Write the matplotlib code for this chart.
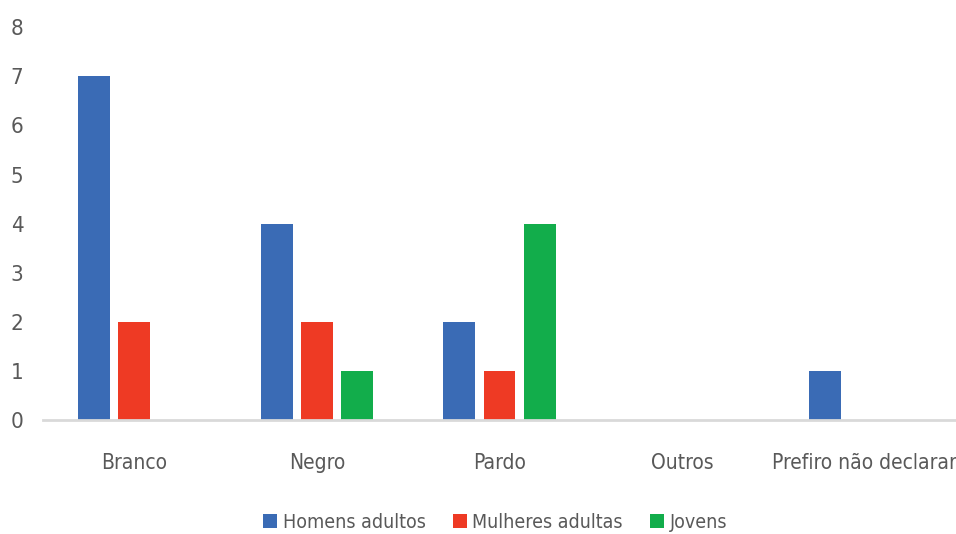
import numpy as np
import matplotlib.pyplot as plt

plt.rcParams['font.family'] = ['DejaVu Sans']
plt.rcParams['font.stretch'] = 'condensed'

categorias = ['Branco', 'Negro', 'Pardo', 'Outros', 'Prefiro não declarar']
homens = [7, 4, 2, 0, 1]
mulheres = [2, 2, 1, 0, 0]
jovens = [0, 1, 4, 0, 0]

cor_txt = '#595959'
x = np.arange(len(categorias))
w = 0.175
passo = 0.22

fig = plt.figure(figsize=(9.56, 5.34), dpi=100)
ax = fig.add_axes([0.045, 0.2135, 0.955, 0.7355])

ax.bar(x - passo, homens, w, color='#3a6bb5', label='Homens adultos')
ax.bar(x, mulheres, w, color='#ee3a24', label='Mulheres adultas')
ax.bar(x + passo, jovens, w, color='#12ad4b', label='Jovens')

ax.set_xlim(-0.5, 4.5)
ax.set_ylim(0, 8)
ax.set_yticks(range(0, 9))
ax.set_xticks(x)
ax.set_xticklabels(categorias)
ax.tick_params(axis='both', length=0, colors=cor_txt)
ax.tick_params(axis='x', pad=24, labelsize=15)
ax.tick_params(axis='y', pad=14, labelsize=16)
for lado in ['top', 'right', 'left']:
    ax.spines[lado].set_visible(False)
ax.spines['bottom'].set_color('#d9d9d9')
ax.spines['bottom'].set_linewidth(2)

fig.legend(loc='center', bbox_to_anchor=(0.518, 0.022), ncol=3, frameon=False,
           fontsize=14, labelcolor=cor_txt, handlelength=0.7, handleheight=0.7,
           handletextpad=0.3, columnspacing=1.4)

fig.savefig('out.png', dpi=100)
